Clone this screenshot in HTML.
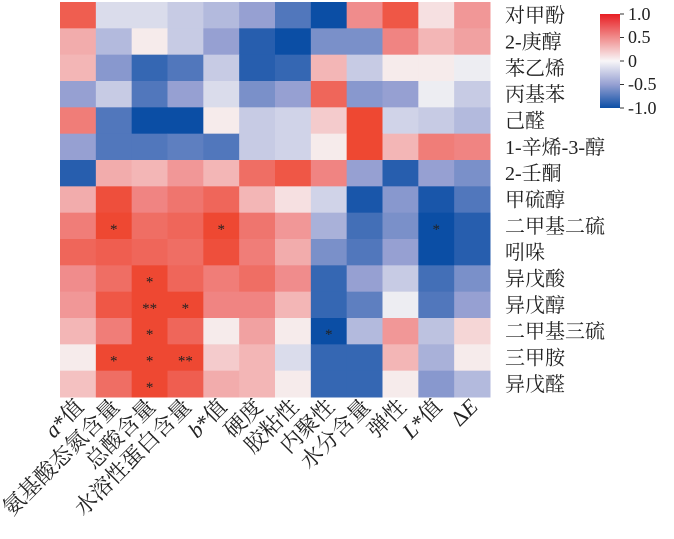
<!DOCTYPE html>
<html><head><meta charset="utf-8"><style>
body{margin:0;background:#fff;width:674px;height:534px;overflow:hidden}
svg text{font-family:"Liberation Serif","Noto Serif CJK SC",serif;fill:#222}
</style></head><body>
<svg id="s" width="674" height="534" xmlns="http://www.w3.org/2000/svg">
<defs><linearGradient id="cb" x1="0" y1="0" x2="0" y2="1">
<stop offset="0" stop-color="rgb(232,30,35)"/><stop offset="0.25" stop-color="rgb(240,140,140)"/><stop offset="0.5" stop-color="rgb(248,246,248)"/><stop offset="0.75" stop-color="rgb(150,160,210)"/><stop offset="1" stop-color="rgb(11,78,165)"/></linearGradient></defs>
<rect x="600" y="14" width="20" height="94" fill="url(#cb)"/>
<g stroke="#333" stroke-width="1">
<line x1="620" y1="14" x2="624" y2="14"/><line x1="620" y1="37.5" x2="624" y2="37.5"/><line x1="620" y1="61" x2="624" y2="61"/><line x1="620" y1="84.5" x2="624" y2="84.5"/><line x1="620" y1="108" x2="624" y2="108"/></g>
<g font-size="18"><text x="628" y="20">1.0</text><text x="628" y="43">0.5</text><text x="628" y="67">0</text><text x="628" y="90">-0.5</text><text x="628" y="114">-1.0</text></g>
</svg>
<script>
var V=[
[0.8,-0.15,-0.15,-0.25,-0.35,-0.5,-0.75,-1.0,0.5,0.85,0.1,0.45],
[0.35,-0.35,0.05,-0.25,-0.5,-0.9,-1.0,-0.6,-0.6,0.55,0.3,0.4],
[0.3,-0.55,-0.85,-0.75,-0.25,-0.9,-0.85,0.3,-0.25,0.05,0.05,-0.05],
[-0.5,-0.25,-0.75,-0.5,-0.15,-0.6,-0.5,0.75,-0.55,-0.5,-0.05,-0.25],
[0.6,-0.75,-1.0,-1.0,0.05,-0.25,-0.2,0.2,0.95,-0.2,-0.25,-0.35],
[-0.5,-0.75,-0.75,-0.7,-0.75,-0.25,-0.2,0.05,0.95,0.3,0.6,0.55],
[-0.9,0.35,0.3,0.45,0.3,0.7,0.85,0.55,-0.5,-0.9,-0.5,-0.6],
[0.35,0.9,0.55,0.65,0.75,0.3,0.1,-0.2,-0.95,-0.55,-0.95,-0.75],
[0.6,0.95,0.7,0.75,0.95,0.65,0.45,-0.4,-0.8,-0.6,-1.0,-0.9],
[0.75,0.8,0.75,0.7,0.9,0.6,0.35,-0.6,-0.75,-0.5,-1.0,-0.9],
[0.5,0.7,0.95,0.75,0.6,0.7,0.5,-0.85,-0.5,-0.25,-0.8,-0.6],
[0.45,0.85,0.95,0.95,0.55,0.55,0.3,-0.85,-0.7,-0.05,-0.75,-0.5],
[0.3,0.6,0.95,0.75,0.05,0.4,0.05,-1.0,-0.35,0.45,-0.3,0.15],
[0.05,0.95,0.95,0.95,0.2,0.3,-0.15,-0.85,-0.85,0.3,-0.4,0.05],
[0.25,0.7,0.95,0.8,0.35,0.3,0.05,-0.85,-0.85,0.05,-0.55,-0.35]];
var S={"8,1":"*","8,4":"*","8,10":"*","10,2":"*","11,2":"**","11,3":"*","12,2":"*","12,7":"*","13,1":"*","13,2":"*","13,3":"**","14,2":"*"};
var rows=["对甲酚","2-庚醇","苯乙烯","丙基苯","己醛","1-辛烯-3-醇","2-壬酮","甲硫醇","二甲基二硫","吲哚","异戊酸","异戊醇","二甲基三硫","三甲胺","异戊醛"];
var cols=["<tspan font-style='italic'>a</tspan>*值","氨基酸态氮含量","总酸含量","水溶性蛋白含量","<tspan font-style='italic'>b</tspan>*值","硬度","胶粘性","内聚性","水分含量","弹性","<tspan font-style='italic'>L</tspan>*值","Δ<tspan font-style='italic'>E</tspan>"];
function lerp(a,b,t){return a.map(function(x,i){return Math.round(x+(b[i]-x)*t)});}
function col(v){var w=[247,245,246],a=Math.abs(v),c;
if(v>0){c=a<0.5?lerp(w,[240,140,140],a/0.5):lerp([240,140,140],[238,64,40],(a-0.5)/0.5);}
else{c=a<0.5?lerp(w,[150,160,210],a/0.5):lerp([150,160,210],[11,78,165],(a-0.5)/0.5);}
return "rgb("+c.join(",")+")";}
var x0=60,y0=2,cw=430/12,rh=395/15,h="";
for(var i=0;i<15;i++){for(var j=0;j<12;j++){
h+="<rect x='"+(x0+j*cw)+"' y='"+(y0+i*rh)+"' width='"+(cw+0.5)+"' height='"+(rh+0.5)+"' fill='"+col(V[i][j])+"'/>";
var s=S[i+","+j];if(s)h+="<text x='"+(x0+(j+0.5)*cw)+"' y='"+(y0+(i+0.5)*rh+8)+"' font-size='15' text-anchor='middle'>"+s+"</text>";}
h+="<text x='505' y='"+(y0+(i+0.5)*rh+7)+"' font-size='20'>"+rows[i]+"</text>";}
for(var j=0;j<12;j++){var cx=x0+(j+0.5)*cw+7,cy=408;
h+="<text transform='translate("+cx+","+cy+") rotate(-45)' text-anchor='end' font-size='22'>"+cols[j]+"</text>";}
document.getElementById("s").insertAdjacentHTML("afterbegin",h);
</script>
</body></html>
